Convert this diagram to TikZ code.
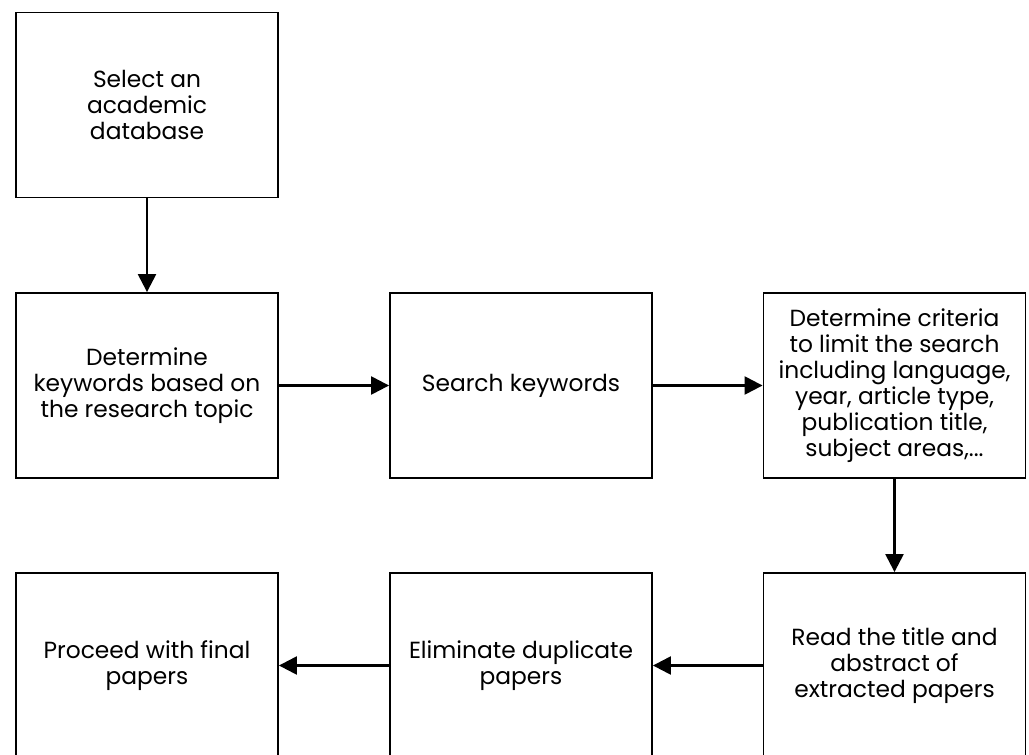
\documentclass[tikz,border=0pt]{standalone}
\usepackage{fontspec}
\setmainfont{Poppins}
\usetikzlibrary{arrows.meta}

\tikzset{
  stepbox/.style={draw, line width=1.4pt, rectangle, minimum width=196.5pt, minimum height=138.75pt,
    align=center, inner sep=0pt, font=\fontsize{17.5}{19.5}\selectfont},
  flow/.style={line width=1.8pt, -{Triangle[length=13.5pt,width=13.5pt]}}
}

\begin{document}
\begin{tikzpicture}[x=0.75pt,y=-0.75pt]
	\useasboundingbox (0,0) rectangle (1029,754);
	\node[stepbox] (select) at (147,105) {Select an\\academic\\database};
	\node[stepbox] (keywords) at (147,385.5) {Determine\\keywords based on\\the research topic};
	\node[stepbox] (search) at (521,385.5) {Search keywords};
	\node[stepbox] (criteria) at (894.5,385.5) {Determine criteria\\to limit the search\\including language,\\year, article type,\\publication title,\\subject areas,...};
	\node[stepbox] (read) at (894.5,665.5) {Read the title and\\abstract of\\extracted papers};
	\node[stepbox] (duplicate) at (521,665.5) {Eliminate duplicate\\papers};
	\node[stepbox] (final) at (147,665.5) {Proceed with final\\papers};
	\draw[flow] (select) -- (keywords);
	\draw[flow] (keywords) -- (search);
	\draw[flow] (search) -- (criteria);
	\draw[flow] (criteria) -- (read);
	\draw[flow] (read) -- (duplicate);
	\draw[flow] (duplicate) -- (final);
\end{tikzpicture}
\end{document}
